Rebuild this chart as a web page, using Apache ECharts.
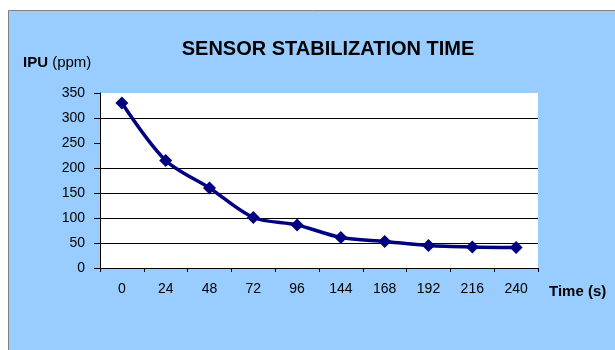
<!DOCTYPE html>
<html>
<head>
<meta charset="utf-8">
<script src="https://cdn.jsdelivr.net/npm/echarts@6/dist/echarts.min.js"></script>
<style>
  html, body { margin: 0; padding: 0; background: #fff; }
  #chart { width: 615px; height: 350px; }
</style>
</head>
<body>
<div id="chart"></div>
<script>
// 传感器稳定时间曲线
const times = ["0", "24", "48", "72", "96", "144", "168", "192", "216", "240"];
const ipu = [330, 215, 160, 101, 86, 61, 53, 45, 42, 41];
// 原图中 250 和 350 处没有网格线
const gridValues = [50, 100, 150, 200, 300];

const chart = echarts.init(document.getElementById("chart"));

chart.setOption({
  backgroundColor: "#fff",
  animation: false,
  textStyle: { fontFamily: "Liberation Sans, Arial, sans-serif" },
  graphic: [
    {
      type: "rect",
      z: -10,
      shape: { x: 8.5, y: 10.5, width: 620, height: 350 },
      style: { fill: "#99CCFF", stroke: "#808080", lineWidth: 1 }
    }
  ],
  title: [
    {
      text: "SENSOR STABILIZATION TIME",
      left: 323,
      textAlign: "center",
      top: 34,
      textStyle: { fontSize: 20, fontWeight: "bold", color: "#000" }
    },
    {
      text: "{b|IPU} (ppm)",
      left: 18,
      top: 50,
      textStyle: {
        fontSize: 15,
        fontWeight: "normal",
        color: "#000",
        rich: { b: { fontSize: 15, fontWeight: "bold", color: "#000" } }
      }
    }
  ],
  grid: {
    left: 100,
    top: 93,
    right: 77,
    bottom: 82,
    show: true,
    backgroundColor: "#fff",
    borderWidth: 0
  },
  xAxis: {
    type: "category",
    data: times,
    boundaryGap: true,
    name: "Time (s)",
    nameLocation: "end",
    nameGap: 11,
    nameTextStyle: {
      fontSize: 15,
      fontWeight: "bold",
      color: "#000",
      verticalAlign: "top",
      padding: [16, 0, 0, 0]
    },
    axisLine: { lineStyle: { color: "#000", width: 1 } },
    axisTick: { show: true, length: 4, inside: false, lineStyle: { color: "#000" } },
    axisLabel: { color: "#000", fontSize: 14, margin: 14 }
  },
  yAxis: {
    type: "value",
    min: 0,
    max: 350,
    interval: 50,
    axisLine: { show: true, lineStyle: { color: "#000", width: 1 } },
    axisTick: { show: true, length: 6, lineStyle: { color: "#000" } },
    axisLabel: { color: "#000", fontSize: 14, margin: 15 },
    splitLine: { show: false }
  },
  series: [
    {
      type: "line",
      data: ipu,
      smooth: 0.3,
      symbol: "diamond",
      symbolSize: 13,
      lineStyle: { color: "#000080", width: 3.5 },
      itemStyle: { color: "#000080" },
      z: 3,
      markLine: {
        silent: true,
        symbol: "none",
        label: { show: false },
        z: 1,
        lineStyle: { color: "#000", width: 1, type: "solid" },
        data: gridValues.map(function (v) { return { yAxis: v }; })
      }
    }
  ]
});
</script>
</body>
</html>
